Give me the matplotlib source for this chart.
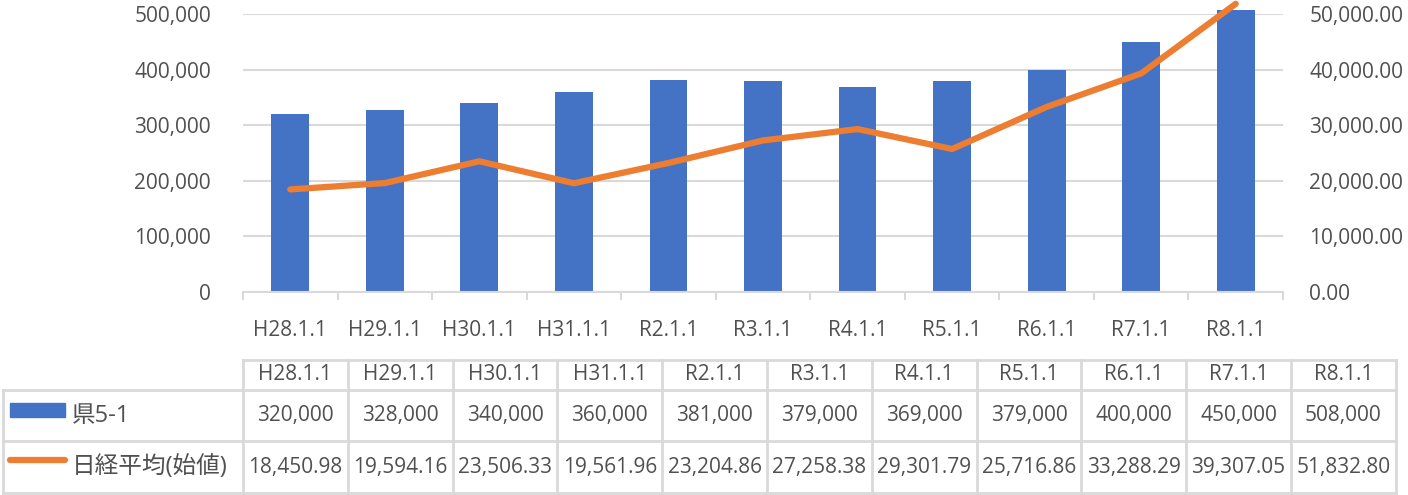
import matplotlib
matplotlib.use('Agg')
import matplotlib.pyplot as plt
from matplotlib.lines import Line2D
from matplotlib.patches import Rectangle
from matplotlib.ticker import FuncFormatter, FixedLocator

plt.rcParams['font.family'] = ['Open Sans', 'Noto Sans CJK JP', 'DejaVu Sans']

dates = ['H28.1.1', 'H29.1.1', 'H30.1.1', 'H31.1.1', 'R2.1.1', 'R3.1.1',
         'R4.1.1', 'R5.1.1', 'R6.1.1', 'R7.1.1', 'R8.1.1']
land_price = [320000, 328000, 340000, 360000, 381000, 379000,
              369000, 379000, 400000, 450000, 508000]
nikkei_open = [18450.98, 19594.16, 23506.33, 19561.96, 23204.86, 27258.38,
               29301.79, 25716.86, 33288.29, 39307.05, 51832.80]
land_label = '県5-1'
nikkei_label = '日経平均(始値)'

BLUE = '#4472C4'
ORANGE = '#ED7D31'
TEXT = '#505050'
GRID = '#D9D9D9'
FS = 15

W, H = 1408, 495
fig = plt.figure(figsize=(W / 100, H / 100), dpi=100)


def fx(px):
    return px / W


def fy(py):
    return 1 - py / H


ax = fig.add_axes([fx(243), fy(292), fx(1283) - fx(243), fy(14) - fy(292)])
ax2 = ax.twinx()

x = list(range(len(dates)))
bars = ax.bar(x, land_price, width=0.4, color=BLUE, zorder=2)
for b in bars:
    b.set_clip_on(False)
ax2.plot(x, nikkei_open, color=ORANGE, linewidth=4.5, solid_capstyle='round',
         zorder=3, clip_on=False)

ax.set_xlim(-0.5, len(dates) - 0.5)
ax.set_ylim(0, 500000)
ax2.set_ylim(0, 50000)
ax.set_yticks(range(0, 500001, 100000))
ax2.set_yticks(range(0, 50001, 10000))
ax.yaxis.set_major_formatter(FuncFormatter(lambda v, _: f'{v:,.0f}'))
ax2.yaxis.set_major_formatter(FuncFormatter(lambda v, _: f'{v:,.2f}'))
ax.grid(True, axis='y', color=GRID, linewidth=1.5, zorder=0)
ax.set_axisbelow(True)

ax.set_xticks(x)
ax.set_xticklabels(dates)
ax.xaxis.set_minor_locator(FixedLocator([i - 0.5 for i in range(len(dates) + 1)]))
ax.tick_params(axis='x', which='major', length=0, pad=20, labelsize=FS, labelcolor=TEXT)
ax.tick_params(axis='x', which='minor', length=6, width=1.5, color=GRID)
ax.tick_params(axis='y', length=0, pad=23, labelsize=FS, labelcolor=TEXT)
ax2.tick_params(axis='y', length=0, pad=19, labelsize=FS, labelcolor=TEXT)

for a in (ax, ax2):
    for side in ('top', 'left', 'right', 'bottom'):
        a.spines[side].set_visible(False)
ax.spines['bottom'].set_visible(True)
ax.spines['bottom'].set_color(GRID)
ax.spines['bottom'].set_linewidth(1.5)

# data table under the chart
col_left, col_w = 243, 104.8
row_edges = [360, 390, 441, 493]
n = len(dates)
col_edges = [col_left + i * col_w for i in range(n + 1)]


def hline(y, x0, x1):
    fig.add_artist(Line2D([fx(x0), fx(x1)], [fy(y), fy(y)], color=GRID, linewidth=2))


def vline(x0, y0, y1):
    fig.add_artist(Line2D([fx(x0), fx(x0)], [fy(y0), fy(y1)], color=GRID, linewidth=2))


hline(row_edges[0], col_edges[0], col_edges[-1])
for y in row_edges[1:]:
    hline(y, 3, col_edges[-1])
for cx in col_edges:
    vline(cx, row_edges[0], row_edges[-1])
vline(3, row_edges[1], row_edges[-1])

for i in range(n):
    cx = fx((col_edges[i] + col_edges[i + 1]) / 2)
    fig.text(cx, fy((row_edges[0] + row_edges[1]) / 2), dates[i], ha='center', va='center',
             fontsize=FS, color=TEXT)
    fig.text(cx, fy((row_edges[1] + row_edges[2]) / 2), f'{land_price[i]:,}', ha='center',
             va='center', fontsize=FS, color=TEXT)
    fig.text(cx, fy((row_edges[2] + row_edges[3]) / 2), f'{nikkei_open[i]:,.2f}', ha='center',
             va='center', fontsize=FS, color=TEXT)

fig.add_artist(Rectangle((fx(10), fy(417)), fx(65) - fx(10), fy(403) - fy(417),
                         color=BLUE, transform=fig.transFigure))
fig.add_artist(Line2D([fx(10), fx(65)], [fy(460), fy(460)], color=ORANGE, linewidth=4.5,
                      solid_capstyle='round'))
fig.text(fx(72), fy(415.5), land_label, ha='left', va='center', fontsize=FS + 2, color=TEXT)
fig.text(fx(72), fy(467), nikkei_label, ha='left', va='center', fontsize=FS + 2, color=TEXT)

fig.savefig('out.png', dpi=100)
